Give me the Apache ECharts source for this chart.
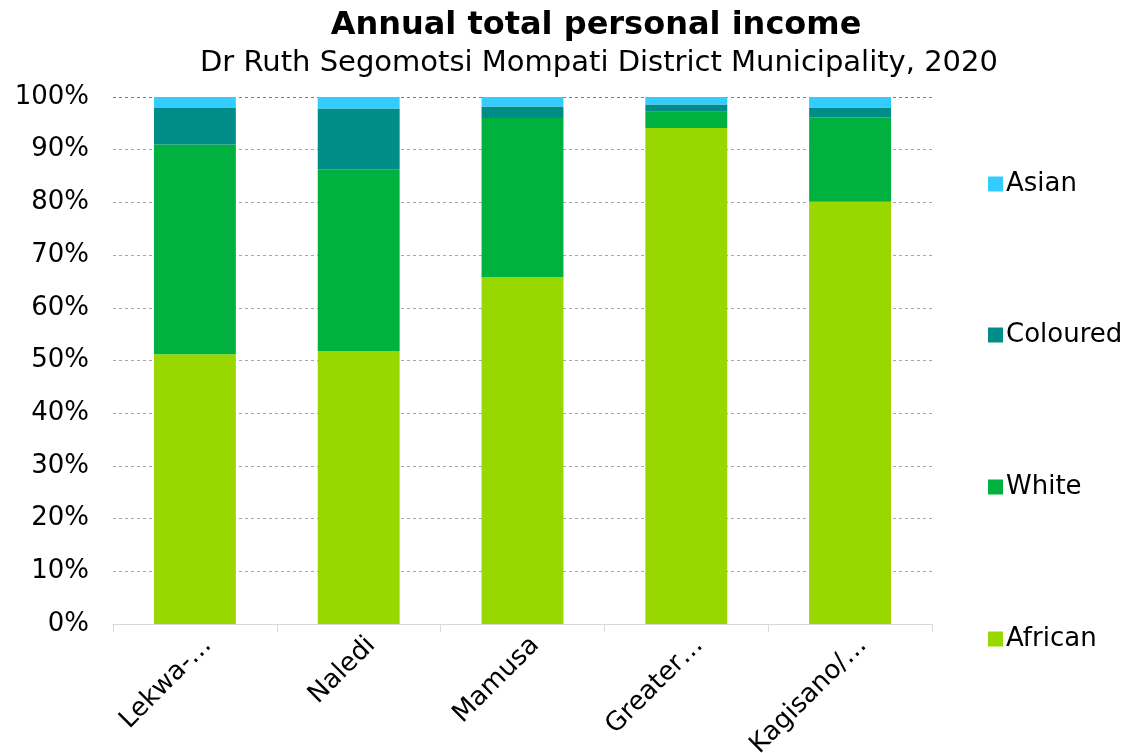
<!DOCTYPE html>
<html><head><meta charset="utf-8">
<script src="https://cdn.jsdelivr.net/npm/echarts@6/dist/echarts.min.js"></script>
<style>html,body{margin:0;padding:0;background:#fff}#c{width:1125px;height:753px}</style>
</head><body><div id="c"></div>
<script>
const categories = ['Lekwa-…', 'Naledi', 'Mamusa', 'Greater…', 'Kagisano/…'];
const african = [51.2, 51.8, 65.8, 94.1, 80.1];
const white = [39.8, 34.5, 30.2, 3.1, 16.0];
const coloured = [6.9, 11.5, 2.2, 1.4, 1.9];
const asian = [2.1, 2.2, 1.8, 1.4, 2.0];
const yTicks = ['0%','10%','20%','30%','40%','50%','60%','70%','80%','90%','100%'];

const FONT = 'DejaVu Sans';
const chart = echarts.init(document.getElementById('c'));
const seriesDefs = [
  {name:'African', data:african, color:'#99D700'},
  {name:'White', data:white, color:'#00B140'},
  {name:'Coloured', data:coloured, color:'#008C87'},
  {name:'Asian', data:asian, color:'#33CCFF'}
];
const legendY = {Asian:182, Coloured:333, White:485, African:637};
chart.setOption({
  animation:false,
  title:[
    {text:'Annual total personal income', left:591, top:5, textAlign:'center',
     textStyle:{fontFamily:FONT, fontWeight:'bold', fontSize:32, color:'#000'}},
    {text:'Dr Ruth Segomotsi Mompati District Municipality, 2020', left:594, top:44, textAlign:'center',
     textStyle:{fontFamily:FONT, fontWeight:'normal', fontSize:29, color:'#000'}}
  ],
  legend: seriesDefs.map(s => ({
    data:[s.name], orient:'vertical', left:983, top:legendY[s.name]-16,
    itemWidth:15, itemHeight:15, itemGap:0, icon:'rect', selectedMode:false,
    textStyle:{fontFamily:FONT, fontSize:26, color:'#000', padding:[0,0,0,-2]}
  })),
  grid:{left:113, right:193, top:97, bottom:129, containLabel:false, outerBoundsMode:'none'},
  xAxis:{
    type:'category', data:categories, boundaryGap:true,
    axisLine:{show:true, lineStyle:{color:'#d9d9d9', width:1}},
    axisTick:{show:true, length:8, lineStyle:{color:'#d9d9d9'}},
    axisLabel:{rotate:45, fontFamily:FONT, fontSize:26, color:'#000', margin:30, interval:0,
      padding:[0,-18,0,0]}
  },
  yAxis:{
    type:'value', min:0, max:100, interval:10,
    axisLine:{show:false}, axisTick:{show:false},
    axisLabel:{fontFamily:FONT, fontSize:26, color:'#000', margin:24,
      formatter:(v)=>yTicks[Math.round(v/10)]},
    splitLine:{show:true, lineStyle:{type:[3,3], width:1,
      color:['#d9d9d9','#a6a6a6','#a6a6a6','#a6a6a6','#a6a6a6','#a6a6a6','#a6a6a6','#a6a6a6','#a6a6a6','#a6a6a6','#808080']}}
  },
  series: seriesDefs.map(s => ({
    name:s.name, type:'bar', stack:'total', data:s.data, barWidth:'50%',
    itemStyle:{color:s.color}
  }))
});
</script></body></html>
